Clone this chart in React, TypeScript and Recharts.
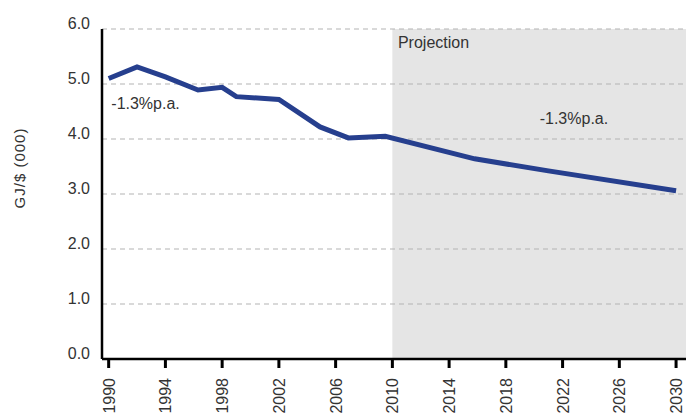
import React from 'react';
import {
  LineChart,
  Line,
  XAxis,
  YAxis,
  ReferenceArea,
  ReferenceLine,
  ReferenceDot
} from 'recharts';

// values (GJ per $000 of output)
const years = [1990, 1992, 1994, 1996.3, 1998, 1999, 2002, 2004.9, 2006.9, 2009.5, 2015.8, 2021, 2030];
const intensity = [5.1, 5.31, 5.13, 4.89, 4.94, 4.77, 4.72, 4.22, 4.02, 4.05, 3.64, 3.42, 3.06];

const xTicks = [1990, 1994, 1998, 2002, 2006, 2010, 2014, 2018, 2022, 2026, 2030];
const yTicks = [0, 1, 2, 3, 4, 5, 6];
const gridValues = [1, 2, 3, 4, 5, 6];

const projectionStart = 2010;
const xDomain: [number, number] = [1989.53, 2030.7];

const FONT = '"Liberation Sans", Arial, sans-serif';
const TEXT = '#333';

const data = years.map((y, i) => ({ year: y, value: intensity[i] }));

const XTick = (props: any) => {
  const { x, y, payload } = props;
  return (
    <text
      x={0}
      y={0}
      transform={`translate(${x + 6}, ${y + 8}) rotate(-90)`}
      textAnchor="end"
      fontSize={16}
      fontFamily={FONT}
      fill={TEXT}
    >
      {payload.value}
    </text>
  );
};

const YTick = (props: any) => {
  const { x, y, payload } = props;
  return (
    <text x={x - 4} y={y} textAnchor="end" fontSize={16} fontFamily={FONT} fill={TEXT}>
      {Number(payload.value).toFixed(1)}
    </text>
  );
};

const YLabel = (props: any) => {
  const { viewBox } = props;
  const cx = 25;
  const cy = viewBox.y + viewBox.height / 2 - 26;
  return (
    <text
      x={cx}
      y={cy}
      transform={`rotate(-90, ${cx}, ${cy})`}
      textAnchor="middle"
      fontSize={15}
      letterSpacing={1}
      fontFamily={FONT}
      fill={TEXT}
    >
      GJ/$ (000)
    </text>
  );
};

const noteStyle = { position: 'center' as const, fontSize: 16, fontFamily: FONT, fill: TEXT };

export default function App() {
  return (
    <div style={{ position: 'absolute', left: 0, top: 0, width: 686, height: 414, background: '#fff' }}>
      <LineChart width={686} height={414} data={data} margin={{ top: 29, right: 0, bottom: 0, left: 0 }}>
        <XAxis
          dataKey="year"
          type="number"
          domain={xDomain}
          ticks={xTicks}
          interval={0}
          allowDataOverflow
          height={55}
          tick={<XTick />}
          tickSize={9}
          tickLine={{ stroke: '#000', strokeWidth: 3 }}
          axisLine={{ stroke: '#000', strokeWidth: 2.5 }}
        />
        <YAxis
          type="number"
          domain={[0, 6]}
          ticks={yTicks}
          interval={0}
          width={102}
          tick={<YTick />}
          tickLine={false}
          axisLine={{ stroke: '#000', strokeWidth: 2.5 }}
          label={<YLabel />}
        />
        <ReferenceArea
          x1={projectionStart}
          x2={xDomain[1]}
          y1={0}
          y2={6}
          fill="#e5e5e5"
          fillOpacity={1}
          stroke="none"
          ifOverflow="hidden"
        />
        {gridValues.map((v) => (
          <ReferenceLine key={v} y={v} stroke="#b3b3b3" strokeDasharray="5 4" strokeWidth={1} />
        ))}
        <ReferenceDot x={2012.9} y={5.75} r={0} fill="none" stroke="none" label={{ value: 'Projection', ...noteStyle }} />
        <ReferenceDot x={1992.6} y={4.64} r={0} fill="none" stroke="none" label={{ value: '-1.3%p.a.', ...noteStyle }} />
        <ReferenceDot x={2022.8} y={4.38} r={0} fill="none" stroke="none" label={{ value: '-1.3%p.a.', ...noteStyle }} />
        <Line
          type="linear"
          dataKey="value"
          stroke="#263f8e"
          strokeWidth={5}
          dot={false}
          activeDot={false}
          isAnimationActive={false}
        />
      </LineChart>
    </div>
  );
}
